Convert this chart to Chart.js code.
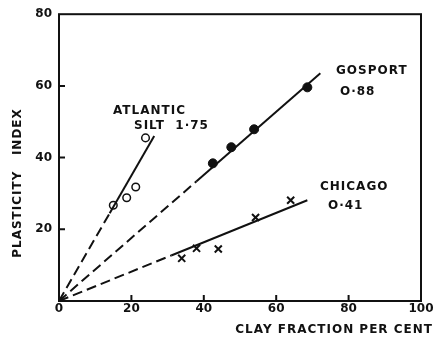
<!DOCTYPE html>
<html>
<head>
  <meta charset="utf-8">
  <style>
    html, body { margin: 0; padding: 0; background: #fff; }
    #wrap { width: 438px; height: 341px; }
  </style>
</head>
<body>
  <div id="wrap"><canvas id="myChart" width="438" height="341"></canvas></div>

  <script src="https://cdn.jsdelivr.net/npm/chart.js@4/dist/chart.umd.min.js"></script>
  <script>
    // data
    var atlanticX = [15.0, 18.7, 21.2, 23.9];
    var atlanticY = [26.7, 28.8, 31.8, 45.5];
    var gosportX = [42.5, 47.6, 53.9, 68.6];
    var gosportY = [38.4, 42.9, 47.9, 59.6];
    var chicagoX = [33.9, 38.0, 44.0, 54.3, 64.0];
    var chicagoY = [11.9, 14.7, 14.5, 23.3, 28.1];

    // fitted lines: origin, end of dashed part, end of solid part
    var atlanticFitX = [0, 14, 26.3];
    var atlanticFitY = [0, 24.5, 46];
    var gosportFitX = [0, 38, 72.2];
    var gosportFitY = [0, 33.4, 63.5];
    var chicagoFitX = [0, 31, 68.6];
    var chicagoFitY = [0, 12.7, 28.1];

    var xTicks = [0, 20, 40, 60, 80, 100];
    var yTicks = [20, 40, 60, 80];

    var ink = '#111';
    var fnt = 'bold 12px "DejaVu Sans"';

    function pts(xs, ys) {
      return xs.map(function (x, i) { return { x: x, y: ys[i] }; });
    }

    function fitLine(xs, ys) {
      return {
        type: 'line',
        data: pts(xs, ys),
        borderColor: ink,
        borderWidth: 2,
        pointRadius: 0,
        fill: false,
        segment: {
          borderDash: function (c) { return c.p0DataIndex === 0 ? [10, 5] : undefined; }
        }
      };
    }

    // inward ticks, frame, titles and labels
    var decor = {
      id: 'decor',
      afterDraw: function (chart) {
        var ctx = chart.ctx;
        var a = chart.chartArea;
        var xs = chart.scales.x, ys = chart.scales.y;
        ctx.save();
        ctx.strokeStyle = ink;
        ctx.lineWidth = 2;
        ctx.strokeRect(a.left, a.top, a.right - a.left, a.bottom - a.top);
        ctx.beginPath();
        [20, 40, 60, 80].forEach(function (v) {
          var px = xs.getPixelForValue(v);
          ctx.moveTo(px, a.bottom); ctx.lineTo(px, a.bottom - 6);
        });
        [20, 40, 60].forEach(function (v) {
          var py = ys.getPixelForValue(v);
          ctx.moveTo(a.left, py); ctx.lineTo(a.left + 6, py);
        });
        ctx.stroke();

        ctx.fillStyle = ink;
        ctx.font = fnt;
        ctx.letterSpacing = '1px';
        ctx.textBaseline = 'middle';
        ctx.textAlign = 'right';
        ctx.fillText('CLAY FRACTION PER CENT', 433, 330);

        ctx.textAlign = 'left';
        ctx.fillText('ATLANTIC', 113, 111);
        ctx.fillText('SILT  1·75', 134, 126);
        ctx.fillText('GOSPORT', 336, 71);
        ctx.fillText('O·88', 340, 92);
        ctx.fillText('CHICAGO', 320, 187);
        ctx.fillText('O·41', 328, 206);

        ctx.translate(18, 183);
        ctx.rotate(-Math.PI / 2);
        ctx.textAlign = 'center';
        ctx.fillText('PLASTICITY   INDEX', 0, 0);
        ctx.restore();
      }
    };

    var ctx = document.getElementById('myChart').getContext('2d');
    var myChart = new Chart(ctx, {
      type: 'scatter',
      data: {
        datasets: [
          fitLine(atlanticFitX, atlanticFitY),
          fitLine(gosportFitX, gosportFitY),
          fitLine(chicagoFitX, chicagoFitY),
          {
            data: pts(atlanticX, atlanticY),
            pointStyle: 'circle', pointRadius: 3.8,
            borderColor: ink, borderWidth: 1.5, backgroundColor: '#fff'
          },
          {
            data: pts(gosportX, gosportY),
            pointStyle: 'circle', pointRadius: 4.5,
            borderColor: ink, borderWidth: 1, backgroundColor: ink
          },
          {
            data: pts(chicagoX, chicagoY),
            pointStyle: 'crossRot', pointRadius: 5,
            borderColor: ink, borderWidth: 2
          }
        ]
      },
      options: {
        responsive: false,
        animation: false,
        layout: { padding: { top: 11, right: 17, left: 0, bottom: 0 } },
        plugins: { legend: { display: false }, tooltip: { enabled: false } },
        scales: {
          x: {
            type: 'linear', min: 0, max: 100,
            afterBuildTicks: function (s) { s.ticks = xTicks.map(function (v) { return { value: v }; }); },
            afterFit: function (s) { s.height = 40; },
            grid: { display: false, drawTicks: false, tickLength: 0 },
            border: { display: false },
            ticks: { color: ink, font: { family: 'DejaVu Sans', size: 12, weight: 'bold' }, padding: 1, maxRotation: 0 }
          },
          y: {
            type: 'linear', min: 0, max: 80,
            afterBuildTicks: function (s) { s.ticks = yTicks.map(function (v) { return { value: v }; }); },
            afterFit: function (s) { s.width = 59; },
            grid: { display: false, drawTicks: false, tickLength: 0 },
            border: { display: false },
            ticks: { color: ink, font: { family: 'DejaVu Sans', size: 12, weight: 'bold' }, padding: 7 }
          }
        }
      },
      plugins: [decor]
    });
  </script>
</body>
</html>
